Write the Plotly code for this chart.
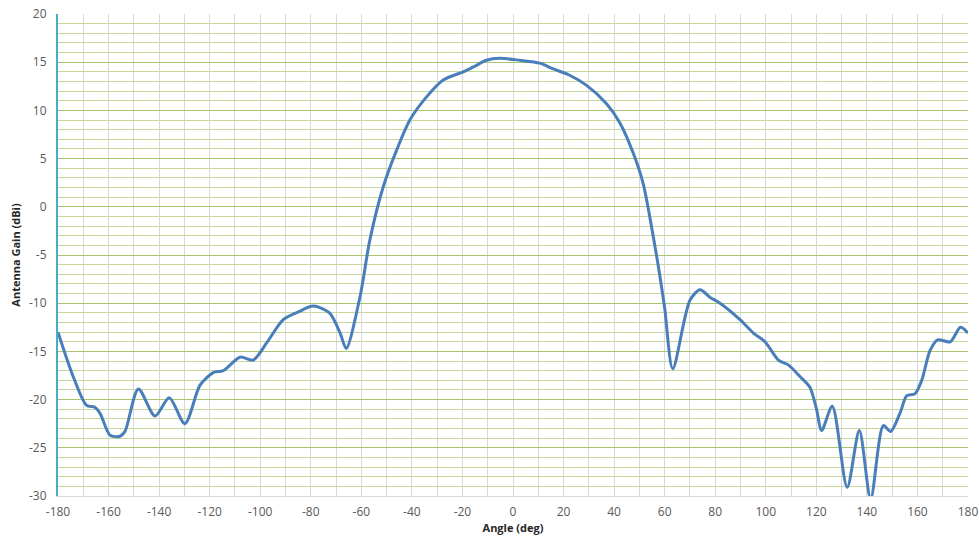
import plotly.graph_objects as go

angle_deg = [-180, -174, -168.7, -165.4, -163.4, -159.4, -155.5, -153.5, -148.2, -141.6,
             -136, -129.8, -123.8, -118.6, -114.6, -108, -102.8, -97.4, -90.9, -84.9,
             -79, -72.6, -68.4, -66, -60.5, -56.6, -51.3, -46, -40.8, -34.2,
             -27.6, -19.7, -15, -10.5, -5.2, 2.7, 10.6, 15.9, 22, 29.1,
             37, 42.3, 47.6, 51.5, 55.5, 58, 60, 63.2,
             70, 74, 78, 81.9, 89.8, 95.1, 99.7, 105, 108.9, 113.5,
             117.4, 120, 122.1, 126.3, 132.2, 137, 141.5, 146.5, 149.4, 153.1, 155.8,
             159, 161.7, 165, 168, 173, 177, 180]
gain_dbi = [-13.0, -17.6, -20.6, -20.8, -21.4, -23.7, -23.8, -23.3, -18.9, -21.7,
            -19.8, -22.5, -18.5, -17.2, -17.0, -15.6, -15.9, -14.1, -11.7, -10.9,
            -10.3, -11.0, -13.1, -14.7, -9.3, -3.4, 2.1, 5.9, 9.0, 11.4,
            13.15, 14.0, 14.6, 15.2, 15.4, 15.2, 14.9, 14.3, 13.7, 12.6,
            10.7, 8.7, 5.55, 2.4, -3.1, -7.0, -10.5, -16.8,
            -9.7, -8.6, -9.4, -10.0, -11.7, -13.1, -14.0, -15.9, -16.4, -17.6,
            -18.7, -20.9, -23.2, -20.7, -29.1, -23.2, -30.3, -22.7, -23.3, -21.4, -19.6,
            -19.4, -18.0, -14.9, -13.8, -14.0, -12.5, -13.1]

x_ticks = list(range(-180, 181, 20))
y_ticks = list(range(-30, 21, 5))

fig = go.Figure()
fig.add_trace(go.Scatter(
    x=angle_deg, y=gain_dbi, mode="lines",
    line=dict(color="#4a7ebb", width=3, shape="spline", smoothing=0.8),
    hoverinfo="x+y", showlegend=False,
))

fig.update_layout(
    width=979, height=539,
    margin=dict(l=58, r=11, t=14, b=43, autoexpand=False),
    paper_bgcolor="white", plot_bgcolor="white",
    font=dict(family="Open Sans, Liberation Sans, sans-serif", size=12, color="#595959"),
    xaxis=dict(
        range=[-180, 180], tickvals=x_ticks, ticktext=[str(v) for v in x_ticks],
        showgrid=True, gridcolor="#d9d9d9", gridwidth=1,
        minor=dict(dtick=10, tick0=-180, showgrid=True, gridcolor="#d9d9d9", gridwidth=1),
        showline=True, linecolor="#d9d9d9", linewidth=1,
        zeroline=False, ticks="outside", ticklen=5, tickcolor="rgba(0,0,0,0)",
        automargin=False, tickfont=dict(size=12), ticklabeloverflow="allow",
        title=dict(text="<b>Angle (deg)</b>", font=dict(size=11, color="#262626"), standoff=2),
    ),
    yaxis=dict(
        range=[-30, 20], tickvals=y_ticks, ticktext=[str(v) for v in y_ticks],
        showgrid=True, gridcolor="#a9c66f", gridwidth=1,
        minor=dict(dtick=1, tick0=0, showgrid=True, gridcolor="#c4d89c", gridwidth=1),
        showline=True, linecolor="#4bacc6", linewidth=2,
        zeroline=False, ticks="outside", ticklen=7, tickcolor="rgba(0,0,0,0)",
        automargin=False, tickfont=dict(size=12), ticklabeloverflow="allow",
        title=dict(text="<b>Antenna Gain (dBi)</b>", font=dict(size=11, color="#262626"), standoff=6),
    ),
)

fig.write_html(
    "out.html",
    config={"displayModeBar": False},
    post_script="document.body.style.margin='0';document.body.style.overflow='hidden';",
)
